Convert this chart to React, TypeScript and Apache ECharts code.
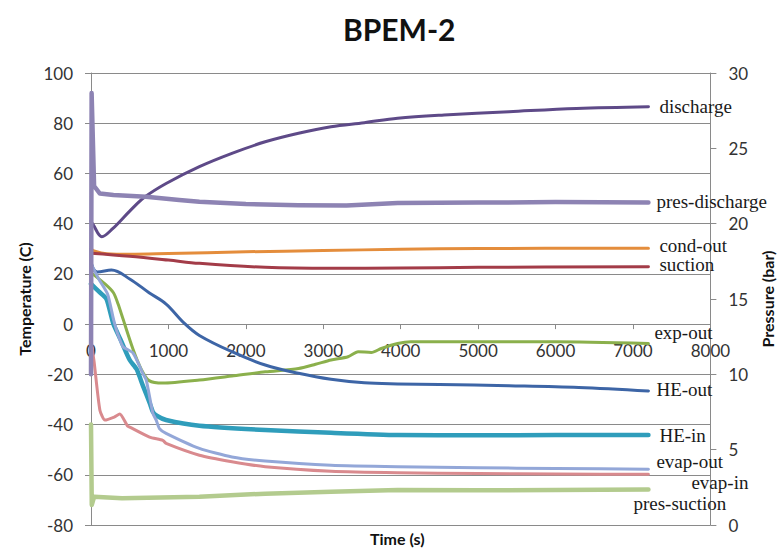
import React, { useEffect, useRef } from "react";
import * as echarts from "echarts";

// ---- data (time in s, temperature in °C, pressure in bar) ----
const dischargeTime = [0, 30, 140, 280, 500, 690, 970, 1400, 1820, 2250, 2680, 3100, 3530, 3960, 4560, 5400, 6270, 7200];
const dischargeTemp = [41, 39.5, 34.8, 38, 45, 50.5, 56, 62.7, 68, 72.6, 76, 78.6, 80.2, 82, 83.3, 84.6, 85.9, 86.6];

const presDischargeTime = [0, 8, 40, 115, 290, 710, 1140, 1400, 2000, 2680, 3300, 3960, 5000, 6000, 7200];
const presDischargeBar = [10, 28.67, 22.5, 22, 21.9, 21.78, 21.57, 21.45, 21.3, 21.23, 21.2, 21.37, 21.4, 21.43, 21.4];

const condOutTime = [0, 50, 200, 500, 1000, 2000, 3000, 4000, 5000, 7200];
const condOutTemp = [30, 29, 28, 27.8, 28.1, 28.8, 29.3, 29.8, 30.1, 30.2];

const suctionTime = [0, 500, 1000, 1400, 2250, 3100, 4000, 5000, 7200];
const suctionTemp = [28.2, 27, 25.5, 24.2, 22.6, 22.2, 22.3, 22.6, 22.8];

const expOutTime = [0, 180, 290, 350, 414, 543, 650, 750, 930, 1400, 1820, 2250, 2680, 2900, 3100, 3320, 3450, 3620, 3750, 3960, 4130, 5000, 6000, 7200];
const expOutTemp = [20.5, 16, 12.5, 8, 2, -10, -18, -22.5, -23.5, -22.3, -20.7, -19, -17.7, -16, -14.3, -13, -11, -11.3, -9.7, -7.7, -7, -7, -7, -7.7];

const heOutTime = [0, 30, 80, 265, 500, 750, 970, 1200, 1400, 1820, 2250, 2680, 3100, 3530, 3960, 4500, 5400, 6300, 7200];
const heOutTemp = [25, 22, 20.8, 21.5, 18, 12.5, 8, 0.5, -4.5, -11, -16.3, -19.6, -22, -23.4, -23.8, -24, -24.5, -25.2, -26.6];

const heInTime = [0, 100, 200, 290, 385, 500, 590, 670, 760, 800, 850, 970, 1400, 2250, 3100, 3960, 5000, 6000, 7200];
const heInTemp = [16, 13, 10, 0, -6.4, -14.3, -18, -24.5, -31.6, -35, -36.5, -38.2, -40.5, -42.2, -43.3, -44.2, -44.3, -44.2, -44.2];

const evapOutTime = [0, 100, 214, 290, 342, 414, 543, 670, 714, 800, 842, 884, 970, 1400, 1820, 2250, 3100, 3960, 5000, 6000, 7200];
const evapOutTemp = [24, 18, 12, 2, -3.6, -9, -11.5, -19.6, -22.3, -35.6, -38.2, -41.6, -43.5, -49.5, -52.9, -54.5, -56.2, -56.8, -57.2, -57.5, -57.8];

const evapInTime = [0, 40, 115, 180, 300, 372, 470, 500, 756, 927, 970, 1400, 1820, 2250, 3100, 3960, 5000, 6000, 7200];
const evapInTemp = [-6.4, -15, -34.3, -38.2, -37, -35.8, -40.5, -41, -45, -46.3, -47.5, -52.2, -54.8, -56.8, -58.6, -59.2, -59.5, -59.7, -59.8];

const presSuctionTime = [0, 10, 40, 400, 1400, 2250, 3100, 3960, 5000, 6000, 7200];
const presSuctionBar = [6.67, 1.33, 1.87, 1.77, 1.87, 2.08, 2.2, 2.32, 2.3, 2.33, 2.35];

// ---- axes ----
const timeMin = 0, timeMax = 8000, timeStep = 1000;
const tempMin = -80, tempMax = 100, tempStep = 20;
const presMin = 0, presMax = 30, presStep = 5;

const pair = (t: number[], v: number[]) => t.map((x, i) => [x, v[i]]);

const labelFont = "'Liberation Serif', 'DejaVu Serif', serif";
const sansFont = "Lato, 'Open Sans', sans-serif";

// plot geometry
const gridTop = 73, gridBottom = 24, chartH = 549;
const plotH = chartH - gridTop - gridBottom;
const zeroOffset = -plotH * (0 - tempMin) / (tempMax - tempMin);

function mk(name: string, t: number[], v: number[], color: string, width: number, yAxisIndex: number, offset: number[], smooth: number | boolean) {
  return {
    name,
    type: "line",
    yAxisIndex,
    data: pair(t, v),
    showSymbol: false,
    symbol: "none",
    smooth,
    lineStyle: { color, width, cap: "round", join: "round" },
    itemStyle: { color },
    endLabel: {
      show: true,
      formatter: name,
      distance: 0,
      offset,
      color: "#1a1a1a",
      fontFamily: labelFont,
      fontSize: 19,
    },
    emphasis: { disabled: true },
  };
}

export default function App() {
  const ref = useRef<HTMLDivElement>(null);
  useEffect(() => {
    if (!ref.current) return;
    const chart = echarts.init(ref.current, undefined, { renderer: "svg" });
    const gray = "#8a8a8a";
    chart.setOption({
      animation: false,
      backgroundColor: "#ffffff",
      title: [
        {
          text: "BPEM-2",
          left: 343,
          top: 14,
          padding: 0,
          textStyle: { fontFamily: sansFont, fontWeight: "bold", fontSize: 30, color: "#111" },
        },
        {
          text: "Time (s)",
          left: 370,
          top: 530,
          padding: 0,
          textStyle: { fontFamily: sansFont, fontWeight: "bold", fontSize: 16, color: "#111" },
        },
      ],
      grid: { left: 91, right: 69, top: gridTop, bottom: gridBottom, containLabel: false },
      xAxis: {
        type: "value",
        min: timeMin,
        max: timeMax,
        interval: timeStep,
        position: "bottom",
        offset: zeroOffset,
        axisLine: { show: true, onZero: false, lineStyle: { color: gray, width: 1 } },
        axisTick: { show: true, length: 5, lineStyle: { color: gray } },
        axisLabel: { margin: 18, fontFamily: sansFont, fontSize: 17, color: "#333", formatter: (v: number) => String(v) },
        splitLine: { show: false },
      },
      yAxis: [
        {
          type: "value",
          min: tempMin,
          max: tempMax,
          interval: tempStep,
          name: "Temperature (C)",
          nameLocation: "middle",
          nameRotate: 90,
          nameGap: 56,
          nameTextStyle: { fontFamily: sansFont, fontWeight: "bold", fontSize: 16, color: "#111" },
          axisLine: { show: true, lineStyle: { color: gray } },
          axisTick: { show: true, length: 6, lineStyle: { color: gray } },
          axisLabel: { margin: 18, fontFamily: sansFont, fontSize: 17, color: "#333" },
          splitLine: { show: true, lineStyle: { color: gray, width: 1 } },
        },
        {
          type: "value",
          position: "right",
          min: presMin,
          max: presMax,
          interval: presStep,
          name: "Pressure (bar)",
          nameLocation: "middle",
          nameRotate: 90,
          nameGap: 46,
          nameTextStyle: { fontFamily: sansFont, fontWeight: "bold", fontSize: 16, color: "#111" },
          axisLine: { show: true, lineStyle: { color: gray } },
          axisTick: { show: true, length: 6, lineStyle: { color: gray } },
          axisLabel: { margin: 18, fontFamily: sansFont, fontSize: 17, color: "#333" },
          splitLine: { show: false },
        },
      ],
      series: [
        mk("discharge", dischargeTime, dischargeTemp, "#5e4a88", 3, 0, [11, 0], 0.35),
        mk("cond-out", condOutTime, condOutTemp, "#e48d3c", 3, 0, [11, -3], 0.35),
        mk("suction", suctionTime, suctionTemp, "#a33c48", 3, 0, [11, -2], 0.35),
        mk("exp-out", expOutTime, expOutTemp, "#8bb04c", 3, 0, [6, -11], 0.25),
        mk("HE-out", heOutTime, heOutTemp, "#3d65a6", 3, 0, [8, -1], 0.35),
        mk("HE-in", heInTime, heInTemp, "#2f9dbb", 4.5, 0, [11, 0], 0.2),
        mk("evap-out", evapOutTime, evapOutTemp, "#93a7d8", 3, 0, [8, -8], 0.2),
        mk("evap-in", evapInTime, evapInTemp, "#d98a8e", 3, 0, [43, 8], 0.2),
        mk("pres-discharge", presDischargeTime, presDischargeBar, "#8d83b3", 4.5, 1, [8, -1], false),
        mk("pres-suction", presSuctionTime, presSuctionBar, "#b3cb8e", 4.5, 1, [-15, 14], false),
      ],
    });
    return () => chart.dispose();
  }, []);
  return <div ref={ref} style={{ position: "fixed", left: 0, top: 0, width: 783, height: 549 }} />;
}
